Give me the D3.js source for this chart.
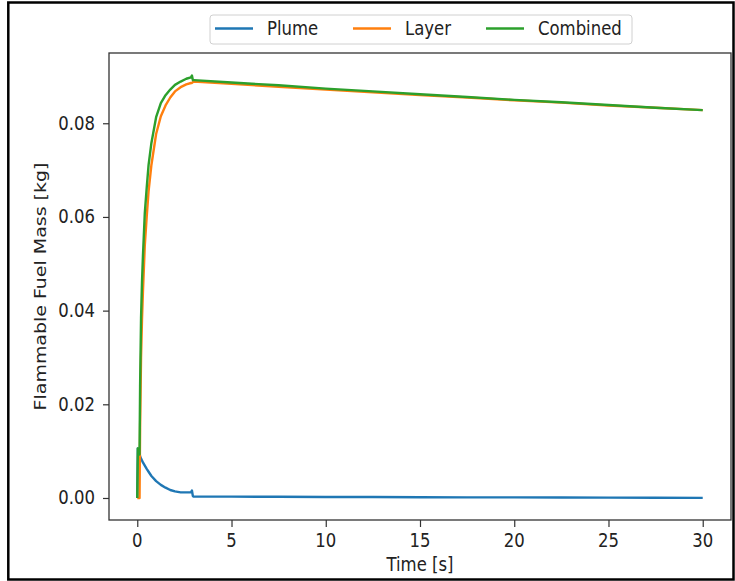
<!DOCTYPE html>
<html><head><meta charset="utf-8">
<script src="https://cdn.jsdelivr.net/npm/d3@7"></script>
<style>body{margin:0;background:#fff}svg{display:block}text{font-family:"DejaVu Sans",sans-serif;fill:#222}</style>
</head><body><svg id="c" width="735" height="581"></svg>
<script>
const time     = [0, 0.03, 0.08, 0.12, 0.15, 0.2, 0.25, 0.3, 0.4, 0.5, 0.6, 0.75, 1.0, 1.25, 1.5, 1.75, 2.0, 2.3, 2.6, 2.85, 2.9, 2.95, 3.0, 5, 7.5, 10, 12.5, 15, 17.5, 20, 22.5, 25, 27.5, 30];
const plume    = [0, 0.0106, 0.0098, 0.0093, 0.0089, 0.0084, 0.0080, 0.0076, 0.0069, 0.0062, 0.0056, 0.0047, 0.0036, 0.0028, 0.0022, 0.0017, 0.0014, 0.0012, 0.0012, 0.0012, 0.0016, 0.0004, 0.0003, 0.00028, 0.00025, 0.00022, 0.0002, 0.00017, 0.00014, 0.00012, 0.0001, 0.00007, 0.00005, 0.00003];
const layer    = [0, 0, 0, 0, 0.015, 0.030, 0.038, 0.044, 0.054, 0.060, 0.0655, 0.0711, 0.0777, 0.0815, 0.0838, 0.0855, 0.0868, 0.0877, 0.0883, 0.0886, 0.0886, 0.0888, 0.0889, 0.0884, 0.0878, 0.0872, 0.0866, 0.0860, 0.0855, 0.0849, 0.0844, 0.0838, 0.0833, 0.0828];
const combined = [0, 0.0106, 0.0098, 0.0093, 0.0239, 0.0384, 0.0460, 0.0516, 0.0609, 0.0662, 0.0711, 0.0758, 0.0813, 0.0843, 0.0860, 0.0872, 0.0882, 0.0889, 0.0895, 0.0898, 0.0902, 0.0892, 0.0892, 0.0887, 0.0881, 0.0874, 0.0868, 0.0862, 0.0856, 0.0850, 0.0845, 0.0839, 0.0833, 0.0828];
const seriesNames = ["Plume", "Layer", "Combined"];
const seriesColors = ["#1f77b4", "#ff7f0e", "#2ca02c"];
const xTicks = [0, 5, 10, 15, 20, 25, 30];
const yTicks = [0, 0.02, 0.04, 0.06, 0.08];
const xLabel = "Time [s]";
const yLabel = "Flammable Fuel Mass [kg]";

const FS = 16.5, K = 1.15;
const svg = d3.select("#c");
const L = 109, R = 731, T = 53, B = 520;
const x = d3.scaleLinear().domain([-1.5, 31.5]).range([L, R]);
const y = d3.scaleLinear().domain([-0.0047, 0.0950]).range([B, T]);

// outer frame
svg.append("rect").attr("x", 8.3).attr("y", 2.5).attr("width", 725.2).attr("height", 577)
  .attr("fill", "none").attr("stroke", "#000").attr("stroke-width", 2.5);

function txt(px, py, s, anchor, rot) {
  return svg.append("text")
    .attr("transform", rot ? `translate(${px},${py}) rotate(-90) scale(${K},1)` : `translate(${px},${py}) scale(1,${K})`)
    .attr("text-anchor", anchor).attr("font-size", FS).text(s);
}

// axes ticks via d3 axes
const gx = svg.append("g").attr("transform", `translate(0,${B})`)
  .call(d3.axisBottom(x).tickValues(xTicks).tickSize(7).tickFormat(""));
const gy = svg.append("g").attr("transform", `translate(${L},0)`)
  .call(d3.axisLeft(y).tickValues(yTicks).tickSize(6).tickFormat(""));
[gx, gy].forEach(g => { g.select(".domain").remove(); g.selectAll("line").attr("stroke", "#333").attr("stroke-width", 1.2); });

xTicks.forEach(v => txt(x(v), B + 27, d3.format("d")(v), "middle"));
yTicks.forEach(v => txt(95, y(v) + 6.5, d3.format(".2f")(v), "end"));

txt((L + R) / 2, 571, xLabel, "middle");
txt(46, (T + B) / 2, yLabel, "middle", true);

// lines
const data = [plume, layer, combined];
const line = d3.line().x((d, i) => x(time[i])).y(d => y(d));
data.forEach((s, k) => {
  svg.append("path").datum(s).attr("d", line).attr("fill", "none")
    .attr("stroke", seriesColors[k]).attr("stroke-width", 2.4).attr("stroke-linejoin", "round");
});

// spines
svg.append("rect").attr("x", L).attr("y", T).attr("width", R - L).attr("height", B - T)
  .attr("fill", "none").attr("stroke", "#333").attr("stroke-width", 1.3);

// legend
svg.append("rect").attr("x", 210).attr("y", 15).attr("width", 422).attr("height", 29).attr("rx", 3)
  .attr("fill", "#fff").attr("stroke", "#d0d0d0").attr("stroke-width", 1);
const legX = [215, 353, 486];
seriesNames.forEach((n, k) => {
  svg.append("line").attr("x1", legX[k]).attr("x2", legX[k] + 38).attr("y1", 28.5).attr("y2", 28.5)
    .attr("stroke", seriesColors[k]).attr("stroke-width", 2.4);
  txt(legX[k] + 52, 35, n, "start");
});
</script></body></html>
